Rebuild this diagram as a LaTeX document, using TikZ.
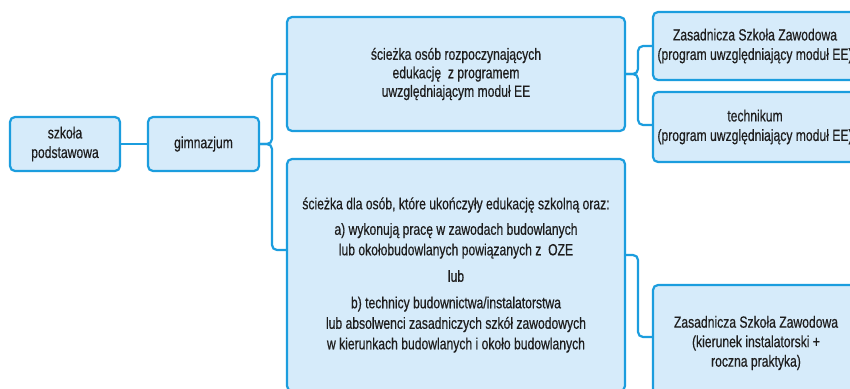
\documentclass[tikz,border=0pt]{standalone}
\usepackage{fontspec}
\setmainfont{Liberation Sans}[FakeStretch=0.75,FakeBold=0.5]
\definecolor{boxfill}{RGB}{214,235,250}
\definecolor{boxline}{RGB}{27,157,222}
\definecolor{txt}{RGB}{30,30,30}
\begin{document}
\begin{tikzpicture}[x=1pt,y=-1pt,
  box/.style={draw=boxline, fill=boxfill, line width=2.2pt, rounded corners=5pt,
    align=center, inner sep=0pt, text=txt, font=\fontsize{16.2}{19.5}\selectfont},
  conn/.style={draw=boxline, line width=2.2pt, rounded corners=5pt}]
\useasboundingbox (0,0) rectangle (850,388);
\clip (0,0) rectangle (850,388);
\fill[white] (0,0) rectangle (850,388);
\node[box, minimum width=110pt, minimum height=54pt] (sp) at (65,144) {szkoła\\podstawowa};
\node[box, minimum width=111pt, minimum height=54pt] (gim) at (203.5,144) {gimnazjum};
\node[box, minimum width=338pt, minimum height=114pt, font=\fontsize{16.2}{18.5}\selectfont] (top) at (456,74)
  {ścieżka osób rozpoczynających\\edukację~ z programem\\uwzględniającym moduł EE};
\node[box, minimum width=338pt, minimum height=232pt, font=\fontsize{16.2}{20.5}\selectfont] (bot) at (456,275)
  {ścieżka dla osób, które ukończyły edukację szkolną oraz:\\[5pt]
   a) wykonują pracę w zawodach budowlanych\\lub okołobudowlanych powiązanych z~ OZE\\[6pt]
   lub\\[6pt]
   b) technicy budownictwa/instalatorstwa\\lub absolwenci zasadniczych szkół zawodowych\\w kierunkach budowlanych i około budowlanych};
\node[box, minimum width=204pt, minimum height=68pt] (zs1) at (755,46)
  {Zasadnicza Szkoła Zawodowa\\(program uwzględniający moduł EE)};
\node[box, minimum width=204pt, minimum height=70pt] (tech) at (755,127)
  {technikum\\(program uwzględniający moduł EE)};
\node[box, minimum width=206pt, minimum height=116pt] (zs2) at (756,343)
  {Zasadnicza Szkoła Zawodowa\\(kierunek instalatorski +\\roczna praktyka)};
\coordinate (ja) at (272,74);
\coordinate (jb) at (272,250);
\coordinate (jc) at (638,46);
\coordinate (jd) at (638,125);
\coordinate (be) at (625,255);
\coordinate (jf) at (638,337);
\coordinate (zf) at (653,337);
\coordinate (bb) at (287,250);
\draw[conn] (sp.east) -- (gim.west);
\draw[conn] (gim.east) -| (ja) -- (top.west);
\draw[conn] (gim.east) -| (jb) -- (bb);
\draw[conn] (top.east) -| (jc) -- (zs1.west);
\draw[conn] (top.east) -| (jd) -- (tech.west |- jd);
\draw[conn] (be) -| (jf) -- (zf);
\end{tikzpicture}
\end{document}
